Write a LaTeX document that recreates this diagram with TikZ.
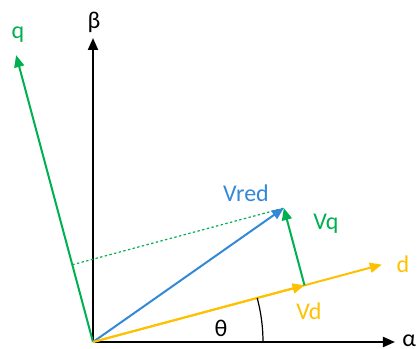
\documentclass[tikz,border=0pt]{standalone}
\usepackage{fontspec}
\setmainfont{Carlito}
\usepackage{xcolor}
\usetikzlibrary{arrows.meta, calc}
\definecolor{qgreen}{RGB}{0,176,80}
\definecolor{vblue}{RGB}{52,136,216}
\definecolor{dyellow}{RGB}{255,192,0}
\tikzset{
    axis/.style={line width=1pt, -{Triangle[length=6pt,width=5pt]}},
    vec/.style={line width=1pt, -{Triangle[length=6pt,width=5pt]}},
    lbl/.style={inner sep=0pt, font=\fontsize{12}{14}\selectfont}
}

\begin{document}
\begin{tikzpicture}[x=0.5pt, y=0.5pt]
    \useasboundingbox (-93,-7) rectangle (326,342);
    % frame points
    \coordinate (o) at (0,0);
    \coordinate (alphaend) at (302,0);
    \coordinate (betaend) at (0,304);
    \coordinate (qend) at (105:297);
    \coordinate (dend) at (15:299);
    \coordinate (vdtip) at (15:219);
    \coordinate (vredtip) at ($(vdtip)+(105:80)$);
    \coordinate (qproj) at (105:80);

    % axes
    \draw [axis, black] (o) -- (alphaend);
    \draw [axis, black] (o) -- (betaend);
    \draw [axis, qgreen] (o) -- (qend);
    \draw [axis, dyellow] (o) -- (dend);

    % vectors
    \draw [qgreen, line width=0.6pt, dash pattern=on 1.2pt off 1.2pt] (qproj) -- (vredtip);
    \draw [vec, vblue] (o) -- (vredtip);
    \draw [vec, dyellow] (o) -- (vdtip);
    \draw [vec, qgreen] (vdtip) -- (vredtip);

    % angle
    \draw [line width=0.6pt] (170,0) arc (0:15:170);

    % labels
    \node (alpha) [lbl, anchor=base west] at (309,-4) {α};
    \node (beta) [lbl] at (1,320) {β};
    \node (q) [lbl, text=qgreen] at (-75,307) {q};
    \node (d) [lbl, text=dyellow] at (310,78) {d};
    \node (vred) [lbl, text=vblue] at (153,149) {Vred};
    \node (vq) [lbl, text=qgreen] at (233,118) {Vq};
    \node (vd) [lbl, text=dyellow] at (216,31) {Vd};
    \node (theta) [lbl] at (128,14) {θ};
\end{tikzpicture}
\end{document}
